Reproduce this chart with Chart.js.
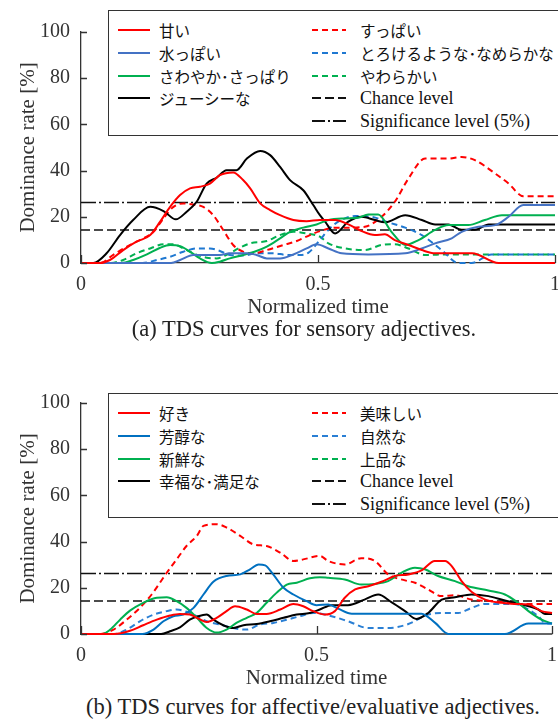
<!DOCTYPE html>
<html lang="ja">
<head>
<meta charset="UTF-8">
<title>TDS curves</title>
<script src="https://cdn.jsdelivr.net/npm/chart.js"></script>
<style>
  * { margin: 0; padding: 0; box-sizing: border-box; }
  body {
    width: 558px;
    height: 720px;
    position: relative;
    overflow: hidden;
    background: #fff;
    font-family: 'Liberation Serif', serif;
    color: #222;
  }
  canvas { position: absolute; left: 0; }
  .legend {
    position: absolute;
    left: 108px;
    width: 470px;
    border: 1.5px solid #333;
    background: #fff;
  }
  .item {
    position: absolute;
    display: flex;
    align-items: center;
    white-space: nowrap;
    height: 22px;
  }
  .item svg { flex: none; }
  .item span { color: #111; }
  .jp { font-family: 'Noto Sans CJK JP', sans-serif; font-size: 15.5px; }
  .en { font-family: 'Liberation Serif', serif; font-size: 18px; }
  .caption {
    position: absolute;
    width: 500px;
    text-align: center;
    font-size: 22.5px;
    line-height: 26px;
    white-space: nowrap;
    color: #222;
  }
</style>
</head>
<body>
  <canvas id="chartA" width="558" height="320" style="top:0"></canvas>
  <div class="legend" id="legendA" style="top:10px;height:126px"></div>
  <div class="caption" style="left:54px;top:316px">(a) TDS curves for sensory adjectives.</div>

  <canvas id="chartB" width="558" height="320" style="top:371px"></canvas>
  <div class="legend" id="legendB" style="top:393px;height:125px"></div>
  <div class="caption" style="left:63px;top:694px">(b) TDS curves for affective/evaluative adjectives.</div>

<script>
  // axis ticks and reference levels
  const yTicks = [0, 20, 40, 60, 80, 100];
  const xTicks = [0, 0.5, 1];
  const chanceLevel = 14.3;
  const sigLevel = 26.2;

  // (a) sensory adjectives: [normalized time, dominance rate %]
  const amai = [[0,0],[0.04,0],[0.061,1.3],[0.089,5.6],[0.117,9.2],[0.146,12.1],[0.167,17.9],[0.188,24.3],[0.209,29.4],[0.23,32.3],[0.251,33],[0.272,34.4],[0.293,38],[0.321,39.2],[0.342,35.9],[0.357,32.3],[0.378,25.8],[0.399,22.9],[0.42,20.7],[0.448,18.6],[0.476,18.1],[0.504,18.6],[0.536,18.6],[0.564,16.7],[0.592,13.8],[0.62,12.1],[0.641,12.4],[0.662,9.9],[0.691,7.8],[0.719,5.6],[0.747,4.2],[0.825,4.2],[0.881,0],[1,0]];
  const mizuppoi = [[0,0],[0.19,0],[0.209,1.3],[0.237,3.5],[0.293,3.5],[0.314,4.2],[0.35,4.2],[0.37,3.5],[0.392,2],[0.42,2],[0.448,3.7],[0.476,6.3],[0.497,8.1],[0.522,6.3],[0.55,4.2],[0.606,3.7],[0.684,4.2],[0.719,6.3],[0.747,8.5],[0.782,10.7],[0.803,13.5],[0.838,15.7],[0.874,16.4],[0.902,20],[0.933,25.1],[1,25.1]];
  const sawayaka = [[0,0],[0.085,0],[0.11,1.3],[0.139,3.7],[0.167,6.6],[0.188,7.8],[0.209,7.3],[0.23,4.9],[0.251,2],[0.276,0],[0.293,0.6],[0.314,2],[0.342,3.5],[0.37,5.2],[0.392,7.1],[0.42,10.7],[0.441,13.5],[0.469,15.3],[0.497,16.7],[0.522,18.6],[0.557,19.3],[0.585,19.6],[0.606,21],[0.627,21],[0.655,13.5],[0.684,7.8],[0.712,9.9],[0.747,14.3],[0.775,16.4],[0.817,16.4],[0.852,18.6],[0.888,20.7],[1,20.7]];
  const juicy = [[0,0],[0.026,0],[0.054,4.2],[0.082,12],[0.11,18.6],[0.146,24.3],[0.174,22.5],[0.2,18.9],[0.223,22.2],[0.244,26.5],[0.265,34.4],[0.286,36.9],[0.307,40.2],[0.328,40.2],[0.35,45.2],[0.378,48.5],[0.399,46.7],[0.42,41.6],[0.441,35.9],[0.469,31.5],[0.49,25.1],[0.504,20.7],[0.515,17.9],[0.536,12.8],[0.564,17.9],[0.592,20],[0.62,18.6],[0.641,17.6],[0.684,20.7],[0.719,18.6],[0.747,16.7],[0.775,16.7],[0.803,14.4],[0.831,14.4],[0.86,16.7],[1,16.7]];
  const suppai = [[0,0],[0.04,0],[0.068,3.5],[0.096,7],[0.124,9.9],[0.153,13.5],[0.174,19.3],[0.195,24.3],[0.216,25.8],[0.237,25.3],[0.258,24.3],[0.279,20.7],[0.3,14.3],[0.321,7.8],[0.342,4.9],[0.364,4.2],[0.392,5.6],[0.427,7.8],[0.455,9.5],[0.483,12.1],[0.504,13.8],[0.536,15.3],[0.564,15.3],[0.599,15.7],[0.634,20],[0.662,26.5],[0.691,36.6],[0.726,45.2],[0.775,45.2],[0.803,45.9],[0.831,44.5],[0.874,38.7],[0.902,34.4],[0.933,28.9],[1,28.9]];
  const torokeru = [[0,0],[0.13,0],[0.16,1.3],[0.188,2.7],[0.216,4.9],[0.244,6.3],[0.272,6.3],[0.293,5.2],[0.314,3.5],[0.342,3.2],[0.37,4.2],[0.406,4.2],[0.434,3.5],[0.462,3.5],[0.48,4.5],[0.504,10],[0.525,15],[0.546,18.3],[0.578,20.3],[0.613,20],[0.648,17.6],[0.684,15.3],[0.719,12.1],[0.761,5.6],[0.796,0],[0.824,0],[0.866,3.7],[1,3.7]];
  const yawarakai = [[0,0],[0.06,0],[0.089,1.3],[0.117,4.2],[0.146,6.3],[0.174,8.1],[0.195,8.1],[0.216,6.3],[0.237,4.2],[0.265,2.3],[0.286,2],[0.307,3.5],[0.335,6.6],[0.357,8.5],[0.392,9.5],[0.42,12.1],[0.448,13.5],[0.476,12.8],[0.504,11.4],[0.522,8.5],[0.557,6.3],[0.599,5.6],[0.634,7.8],[0.662,8.1],[0.691,6.3],[0.726,3.5],[0.775,3.7],[1,3.7]];

  // (b) affective / evaluative adjectives
  const suki = [[0,0],[0.07,0],[0.104,1.4],[0.132,3.8],[0.161,6.2],[0.189,8],[0.21,8.7],[0.231,8.4],[0.249,6.7],[0.267,5.2],[0.288,7],[0.309,9.9],[0.327,12],[0.352,10.6],[0.373,8.7],[0.394,8.7],[0.423,10.6],[0.451,13],[0.472,12],[0.493,9.9],[0.518,8.4],[0.539,9.9],[0.56,15.7],[0.582,19.3],[0.61,20.7],[0.638,22.6],[0.666,25.1],[0.695,25.8],[0.723,27.5],[0.751,31.6],[0.773,31.6],[0.787,29.4],[0.808,22.9],[0.829,18.3],[0.858,14.9],[0.893,13.5],[0.921,13],[0.95,12.8],[0.978,9.9],[1,9.1]];
  const houjun = [[0,0],[0.13,0],[0.154,1.9],[0.175,5.5],[0.196,7.7],[0.217,8.4],[0.239,11.3],[0.26,17.1],[0.281,22.6],[0.309,25.1],[0.338,25.8],[0.359,28],[0.377,30.1],[0.391,29.7],[0.408,25.8],[0.43,20],[0.451,17.1],[0.479,14.2],[0.5,12.5],[0.525,12.8],[0.546,11],[0.575,8.8],[0.723,8.8],[0.752,4.8],[0.78,0],[0.9,0],[0.95,4.5],[1,4.5]];
  const shinsen = [[0,0],[0.045,0],[0.062,1.9],[0.083,6.2],[0.104,10.1],[0.132,13.5],[0.161,15.7],[0.182,15.9],[0.203,14.2],[0.224,11.3],[0.246,7],[0.267,2.6],[0.288,0.6],[0.309,1.9],[0.33,4.8],[0.352,7],[0.373,9.1],[0.394,13.5],[0.415,17.8],[0.437,21.4],[0.458,22.2],[0.486,24.1],[0.507,24.6],[0.525,24.3],[0.56,23.6],[0.595,21.4],[0.624,21.7],[0.652,22.9],[0.68,26.5],[0.709,28.7],[0.73,28],[0.758,25.1],[0.794,22.9],[0.822,20.7],[0.865,18.8],[0.9,17.1],[0.928,13.5],[0.95,9.9],[0.978,6.2],[1,4.5]];
  const koufuku = [[0,0],[0.17,0],[0.189,1.2],[0.21,2.9],[0.231,6.2],[0.249,7.7],[0.267,8.4],[0.281,6.2],[0.302,3.8],[0.323,2.6],[0.345,3.8],[0.373,4.3],[0.401,5.5],[0.43,7],[0.458,8.4],[0.486,9.1],[0.507,10.6],[0.532,12.5],[0.567,12.5],[0.602,14.9],[0.631,17.1],[0.659,13.8],[0.688,9.9],[0.712,6.5],[0.737,9.1],[0.766,14.9],[0.794,15.9],[0.829,17.1],[0.865,16.4],[0.9,14.5],[0.935,12.8],[0.971,10.6],[0.985,8.7],[1,8.7]];
  const oishii = [[0,0],[0.04,0],[0.069,1.9],[0.097,6.2],[0.125,11.3],[0.15,17.1],[0.182,26.5],[0.203,32.3],[0.224,38.1],[0.246,42.5],[0.26,46.8],[0.288,47.5],[0.309,46.1],[0.338,42.5],[0.366,38.8],[0.394,38.1],[0.423,35.2],[0.451,31.6],[0.472,32.3],[0.507,33.8],[0.525,31.6],[0.56,30.1],[0.595,32.8],[0.624,31.6],[0.652,25.8],[0.688,23.2],[0.709,22.2],[0.737,19.3],[0.766,16.4],[0.794,16.8],[0.829,14.9],[0.872,14.2],[0.907,13.5],[0.935,13],[1,13]];
  const shizen = [[0,0],[0.07,0],[0.097,1.9],[0.125,5.5],[0.154,8.4],[0.182,9.9],[0.203,10.6],[0.224,9.6],[0.246,7.7],[0.267,5.5],[0.295,4.1],[0.323,2.6],[0.352,1.9],[0.38,4.1],[0.408,4.8],[0.437,6.2],[0.465,7.7],[0.493,9.1],[0.532,7.7],[0.567,5.5],[0.61,2.6],[0.652,2.6],[0.695,4.3],[0.737,8.4],[0.773,9.1],[0.801,9.1],[0.829,11.3],[0.858,13],[0.921,13],[0.95,10.6],[0.971,7.7],[0.985,4.8],[1,4.5]];
  const jouhin = [[0,0],[1,0]];

  const RED = '#ff0000', GREEN = '#00b050', BLACK = '#000000';
  const DASH = [6, 4];
  const CHANCE_DASH = [9, 4];
  const SIG_DASH = [15, 3, 2, 3];
  const SERIF = 'Liberation Serif';

  const seriesA = [
    { label: '甘い', data: amai, color: RED, dash: [] },
    { label: '水っぽい', data: mizuppoi, color: '#4472c4', dash: [] },
    { label: 'さわやか･さっぱり', data: sawayaka, color: GREEN, dash: [] },
    { label: 'ジューシーな', data: juicy, color: BLACK, dash: [] },
    { label: 'すっぱい', data: suppai, color: RED, dash: DASH },
    { label: 'とろけるような･なめらかな', data: torokeru, color: '#1f78d1', dash: DASH },
    { label: 'やわらかい', data: yawarakai, color: GREEN, dash: DASH }
  ];
  const seriesB = [
    { label: '好き', data: suki, color: RED, dash: [] },
    { label: '芳醇な', data: houjun, color: '#0070c0', dash: [] },
    { label: '新鮮な', data: shinsen, color: GREEN, dash: [] },
    { label: '幸福な･満足な', data: koufuku, color: BLACK, dash: [] },
    { label: '美味しい', data: oishii, color: RED, dash: DASH },
    { label: '自然な', data: shizen, color: '#2a7fd4', dash: DASH },
    { label: '上品な', data: jouhin, color: GREEN, dash: DASH, under: true }
  ];

  // small ticks pointing into the plot, and the baseline redrawn over a series lying on it
  const axisExtras = {
    id: 'axisExtras',
    afterDatasetDraw(chart, args) {
      if (!chart.data.datasets[args.index].under) return;
      const { ctx, chartArea: a } = chart;
      ctx.save();
      ctx.lineWidth = 2.6;
      ctx.strokeStyle = '#fff';
      ctx.beginPath(); ctx.moveTo(a.left + 1, a.bottom); ctx.lineTo(a.right, a.bottom); ctx.stroke();
      ctx.lineWidth = 1.3;
      ctx.strokeStyle = '#333';
      ctx.beginPath(); ctx.moveTo(a.left, a.bottom); ctx.lineTo(a.right, a.bottom); ctx.stroke();
      ctx.restore();
    },
    afterDraw(chart) {
      const { ctx, chartArea: a, scales: { x, y } } = chart;
      ctx.save();
      ctx.strokeStyle = '#333';
      ctx.lineWidth = 1.3;
      ctx.beginPath();
      yTicks.forEach(v => {
        const py = Math.round(y.getPixelForValue(v)) + 0.5;
        ctx.moveTo(a.left, py);
        ctx.lineTo(a.left + 6, py);
      });
      xTicks.forEach(v => {
        const px = Math.round(x.getPixelForValue(v)) + 0.5;
        ctx.moveTo(px, a.bottom);
        ctx.lineTo(px, a.bottom - 8);
      });
      ctx.stroke();
      ctx.restore();
    }
  };

  Chart.defaults.font.family = SERIF;
  Chart.defaults.color = '#333';

  function makeChart(id, series, padRight) {
    const datasets = series.map((s, i) => ({
      label: s.label,
      data: s.data.map(p => ({ x: p[0], y: p[1] })),
      borderColor: s.color,
      borderDash: s.dash,
      borderWidth: 2,
      pointRadius: 0,
      fill: false,
      cubicInterpolationMode: 'monotone',
      clip: false,
      under: !!s.under,
      order: s.under ? 99 : i
    }));
    datasets.push({
      label: 'Chance level',
      data: [{ x: 0, y: chanceLevel }, { x: 1, y: chanceLevel }],
      borderColor: '#111', borderDash: CHANCE_DASH, borderWidth: 1.6, pointRadius: 0, order: 20
    });
    datasets.push({
      label: 'Significance level (5%)',
      data: [{ x: 0, y: sigLevel }, { x: 1, y: sigLevel }],
      borderColor: '#111', borderDash: SIG_DASH, borderWidth: 1.6, pointRadius: 0, order: 21
    });

    return new Chart(document.getElementById(id), {
      type: 'line',
      data: { datasets },
      options: {
        responsive: false,
        animation: false,
        layout: { padding: { top: 32, right: padRight, left: 0, bottom: 0 } },
        plugins: { legend: { display: false }, tooltip: { enabled: false } },
        scales: {
          x: {
            type: 'linear',
            min: 0, max: 1,
            afterBuildTicks: s => { s.ticks = xTicks.map(v => ({ value: v })); },
            afterFit: s => { s.height = 57; s.paddingLeft = 0; s.paddingRight = 0; },
            grid: { display: false, drawTicks: false },
            border: { display: true, color: '#333', width: 1.3 },
            ticks: { padding: 10, font: { family: SERIF, size: 20 }, maxRotation: 0, callback: v => String(v) },
            title: { display: true, text: 'Normalized time', font: { family: SERIF, size: 21 }, padding: { top: 0, bottom: 0 } }
          },
          y: {
            min: 0, max: 100,
            afterBuildTicks: s => { s.ticks = yTicks.map(v => ({ value: v })); },
            afterFit: s => { s.width = 81; s.paddingTop = 0; s.paddingBottom = 0; },
            grid: { display: false, drawTicks: false },
            border: { display: true, color: '#333', width: 1.3 },
            ticks: { padding: 11, font: { family: SERIF, size: 20 }, callback: v => String(v) },
            title: { display: true, text: 'Dominance rate [%]', font: { family: SERIF, size: 21 }, padding: { top: 16, bottom: 0 } }
          }
        }
      },
      plugins: [axisExtras]
    });
  }

  // legend drawn as html box in two columns
  function buildLegend(id, series) {
    const box = document.getElementById(id);
    const entries = series.map(s => ({ label: s.label, color: s.color, dash: s.dash, jp: true }));
    entries.push({ label: 'Chance level', color: '#111', dash: CHANCE_DASH, jp: false });
    entries.push({ label: 'Significance level (5%)', color: '#111', dash: [13, 3, 2, 3], jp: false });
    const rowsLeft = 4;
    entries.forEach((e, i) => {
      const col = i < rowsLeft ? 0 : 1;
      const row = col === 0 ? i : i - rowsLeft;
      const item = document.createElement('div');
      item.className = 'item';
      item.style.left = (col === 0 ? 9 : 203) + 'px';
      item.style.top = (8 + row * 22.8) + 'px';
      const w = col === 0 ? 32 : 34;
      item.innerHTML =
        `<svg width="${w}" height="8"><line x1="0" y1="4" x2="${w}" y2="4" stroke="${e.color}" stroke-width="2" stroke-dasharray="${e.dash.join(' ')}"/></svg>` +
        `<span class="${e.jp ? 'jp' : 'en'}" style="margin-left:${col === 0 ? 9 : 14}px">${e.label}</span>`;
      box.appendChild(item);
    });
  }

  function draw() {
    makeChart('chartA', seriesA, 3);
    makeChart('chartB', seriesB, 6);
    buildLegend('legendA', seriesA);
    buildLegend('legendB', seriesB);
  }

  document.fonts.load('20px "' + SERIF + '"').then(draw, draw);
</script>
</body>
</html>
